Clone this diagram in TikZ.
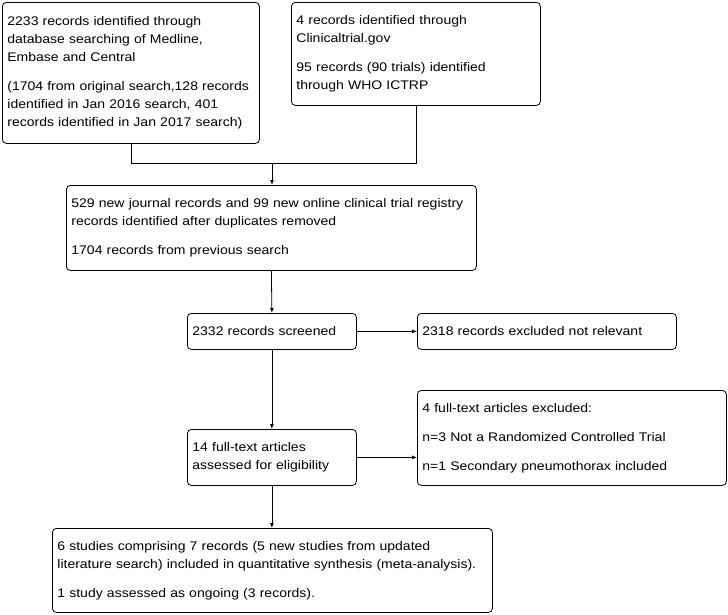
\documentclass[tikz,border=0pt]{standalone}
\usepackage{fontspec}
\setmainfont{Liberation Sans}[FakeStretch=1.12]
\usetikzlibrary{arrows.meta,positioning,calc}
\definecolor{ink}{HTML}{000000}
\tikzset{sbox/.style={draw=ink, rounded corners=4pt, line width=0.8pt, align=left, anchor=north west, inner xsep=5pt, inner ysep=3pt, font=\fontsize{12.5}{18}\selectfont},
         ln/.style={line width=0.8pt, ink},
         arr/.style={-{Latex[length=5pt,width=4pt]}, line width=0.8pt, ink}}
\newcommand{\gap}{\\[11pt]}
\newcommand{\lift}{\par\vspace{9pt}}

\begin{document}
\begin{tikzpicture}[x=1pt,y=-1pt]
\useasboundingbox (0,0) rectangle (728,614);
\node[sbox, text width=247pt, minimum height=141pt] (db) at (2,2) {2233 records identified through\\database searching of Medline,\\Embase and Central\gap(1704 from original search,128 records\\identified in Jan 2016 search, 401\\records identified in Jan 2017 search)\lift};
\node[sbox, text width=239pt, minimum height=103pt] (reg) at (291,2) {4 records identified through\\Clinicaltrial.gov\gap 95 records (90 trials) identified\\through WHO ICTRP\lift};
\node[sbox, text width=400pt, minimum height=85pt] (dup) at (66,185) {529 new journal records and 99 new online clinical trial registry\\records identified after duplicates removed\gap 1704 records from previous search\lift};
\node[sbox, text width=159pt, minimum height=36pt] (scr) at (187,313) {2332 records screened};
\node[sbox, text width=249pt, minimum height=36pt] (exc) at (417,313) {2318 records excluded not relevant};
\node[sbox, text width=159pt, minimum height=56pt] (ft) at (187,429) {14 full-text articles\\assessed for eligibility};
\node[sbox, text width=299pt, minimum height=95pt] (ftx) at (417,390) {4 full-text articles excluded:\gap n=3 Not a Randomized Controlled Trial\gap n=1 Secondary pneumothorax included\lift};
\node[sbox, text width=430pt, minimum height=84pt] (inc) at (52,528) {6 studies comprising 7 records (5 new studies from updated\\literature search) included in quantitative synthesis (meta-analysis).\gap 1 study assessed as ongoing (3 records).\lift};
\coordinate (m) at (272,163);
\draw[ln] (db.south) |- ([xshift=-124pt]reg.south east |- m) -- ([xshift=-124pt]reg.south east);
\draw[arr] (m) -- (m |- dup.north);
\draw[arr] (dup.south) -- (scr.north);
\draw[arr] (scr.east) -- (scr.east -| exc.west);
\draw[arr] (scr.south) -- (ft.north);
\draw[arr] (ft.east) -- (ft.east -| ftx.west);
\draw[arr] (ft.south) -- (ft.south |- inc.north);
\end{tikzpicture}
\end{document}
